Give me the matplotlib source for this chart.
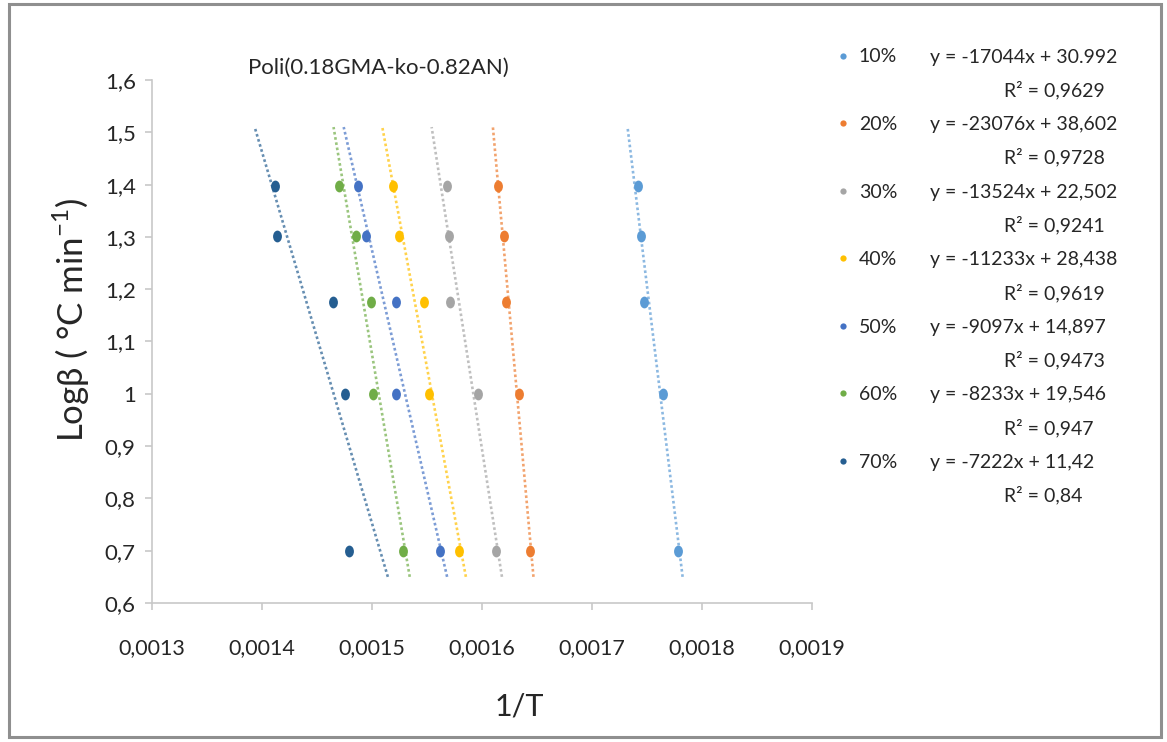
import numpy as np
import matplotlib
matplotlib.use("Agg")
import matplotlib.pyplot as plt
from matplotlib.path import Path
from matplotlib.patches import Rectangle
from matplotlib.lines import Line2D
from matplotlib.ticker import FuncFormatter

# ---- data -------------------------------------------------------------
conversions = ["10%", "20%", "30%", "40%", "50%", "60%", "70%"]

# log of heating rates 25, 20, 15, 10, 5 °C/min
log_beta = [1.398, 1.301, 1.176, 1.0, 0.699]

inv_T_10 = [0.0017418, 0.0017448, 0.0017475, 0.0017651, 0.0017787]
inv_T_20 = [0.0016151, 0.0016203, 0.0016221, 0.0016342, 0.0016439]
inv_T_30 = [0.0015687, 0.0015703, 0.0015712, 0.0015964, 0.0016127]
inv_T_40 = [0.0015196, 0.0015245, 0.0015475, 0.0015521, 0.0015791]
inv_T_50 = [0.0014873, 0.0014951, 0.0015221, 0.0015221, 0.0015621]
inv_T_60 = [0.0014705, 0.0014855, 0.0014994, 0.0015015, 0.0015288]
inv_T_70 = [0.0014121, 0.0014142, 0.0014648, 0.0014757, 0.0014794]

equations = [
    "y = -17044x + 30.992",
    "y = -23076x + 38,602",
    "y = -13524x + 22,502",
    "y = -11233x + 28,438",
    "y = -9097x + 14,897",
    "y = -8233x + 19,546",
    "y = -7222x + 11,42",
]
r_squared = ["0,9629", "0,9728", "0,9241", "0,9619", "0,9473", "0,947", "0,84"]

x_ticks = [0.0013, 0.0014, 0.0015, 0.0016, 0.0017, 0.0018, 0.0019]
y_ticks = [0.6, 0.7, 0.8, 0.9, 1.0, 1.1, 1.2, 1.3, 1.4, 1.5, 1.6]

series_x = [inv_T_10, inv_T_20, inv_T_30, inv_T_40, inv_T_50, inv_T_60, inv_T_70]

# ---- style ------------------------------------------------------------
colors = ["#5B9BD5", "#ED7D31", "#A5A5A5", "#FFC000",
          "#4472C4", "#70AD47", "#255E91"]
text_color = "#262626"
axis_color = "#C8C8C8"
font = ["Lato", "DejaVu Sans"]
trend_span = (0.65, 1.51)   # vertical extent of each trend line

plt.rcParams["font.family"] = font
plt.rcParams["mathtext.fontset"] = "custom"
plt.rcParams["mathtext.rm"] = "Lato"

W, H = 1167, 742
fig = plt.figure(figsize=(W / 100, H / 100), dpi=100)
fig.patch.set_facecolor("white")

ax = fig.add_axes([151.7 / W, 1 - 603 / H, 660 / W, 523 / H])

# slightly tall elliptical marker
oval = Path.unit_circle().transformed(
    matplotlib.transforms.Affine2D().scale(0.75, 1.0))

for xs, col in zip(series_x, colors):
    xs = np.asarray(xs)
    ys = np.asarray(log_beta)
    slope, intercept = np.polyfit(xs, ys, 1)
    y_line = np.array(trend_span)
    x_line = (y_line - intercept) / slope
    ax.plot(x_line, y_line, color=col, lw=1.9, alpha=0.7,
            linestyle=(0, (1, 1)), dash_capstyle="butt", zorder=2)

for xs, col in zip(series_x, colors):
    ax.plot(xs, log_beta, linestyle="none", marker=oval, markersize=8.5,
            color=col, markeredgewidth=0, zorder=3)

ax.set_xlim(0.0013, 0.0019)
ax.set_ylim(0.6, 1.6)
ax.set_xticks(x_ticks)
ax.set_yticks(y_ticks)
ax.xaxis.set_major_formatter(FuncFormatter(lambda v, p: f"{v:.4f}".replace(".", ",")))
ax.yaxis.set_major_formatter(FuncFormatter(lambda v, p: f"{round(v, 1):g}".replace(".", ",")))

for side in ("top", "right"):
    ax.spines[side].set_visible(False)
for side in ("left", "bottom"):
    ax.spines[side].set_color(axis_color)
    ax.spines[side].set_linewidth(1.2)
ax.tick_params(axis="both", colors=axis_color, width=1.2, length=5,
               labelcolor=text_color)
ax.tick_params(axis="x", labelsize=15.5, pad=20)
ax.tick_params(axis="y", labelsize=16, pad=6.5)

ax.set_xlabel("1/T", fontsize=22, color=text_color)
ax.xaxis.set_label_coords(0.5565, -0.172)
ax.set_ylabel("Logβ ( °C min$^{-1}$)", fontsize=25, color=text_color)
ax.yaxis.set_label_coords(-0.09, 0.541)

fig.text(248 / W, 1 - 68 / H, "Poli(0.18GMA-ko-0.82AN)", fontsize=16,
         color=text_color, va="center", ha="left")

# legend with conversion levels
handles = [Line2D([], [], linestyle="none", marker="o", markersize=4.5,
                  color=c, markeredgewidth=0) for c in colors]
leg = fig.legend(handles, conversions, loc="upper left",
                 bbox_to_anchor=(818 / W, 1 - 31 / H), frameon=False,
                 fontsize=14, labelspacing=2.6, handlelength=0.8,
                 handletextpad=0.4, labelcolor=text_color)

fig.canvas.draw()
renderer = fig.canvas.get_renderer()
for txt, eq, r2 in zip(leg.get_texts(), equations, r_squared):
    bb = txt.get_window_extent(renderer)
    yc = (bb.y0 + bb.y1) / 2
    fig.text(930 / W, yc / H, eq, fontsize=14, color=text_color,
             va="center", ha="left")
    fig.text(1004 / W, (yc - 33) / H, "R² = " + r2, fontsize=14,
             color=text_color, va="center", ha="left")

# outer chart border
fig.patches.append(Rectangle((9 / W, 5 / H), 1152 / W, 733 / H,
                             transform=fig.transFigure, fill=False,
                             edgecolor="#8f8f8f", linewidth=2.2))

fig.savefig("out.png", dpi=100, facecolor="white")
